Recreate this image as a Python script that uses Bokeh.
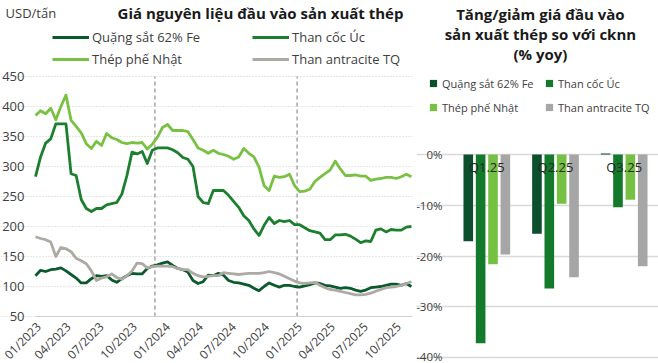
import math
from bokeh.plotting import figure
from bokeh.models import (Range1d, FixedTicker, Label, Legend, LegendItem,
                          ColumnDataSource, PrintfTickFormatter)
from bokeh.layouts import row
from bokeh.transform import dodge
from bokeh.embed import file_html
from bokeh.resources import INLINE
from bokeh.core.properties import value

FONT = "Open Sans"
TXT = "#404040"

# ---------------- data: left chart (weekly prices, USD/tan) ----------------
weeks = list(range(0, 149, 2))
iron = [118, 127, 125, 128, 129, 131, 126, 120, 114, 106,
        106, 113, 118, 117, 118, 111, 107, 113, 118, 122,
        121, 121, 130, 134, 136, 139, 141, 135, 130, 128,
        124, 110, 105, 108, 119, 118, 122, 119, 110, 107,
        106, 104, 102, 97, 93, 100, 106, 102, 99, 102,
        102, 100, 99, 101, 103, 106, 105, 102, 101, 99,
        97, 98, 97, 94, 92, 94, 98, 99, 100, 102,
        104, 104, 102, 105, 100]
coke = [283, 316, 339, 346, 371, 371, 371, 288, 285, 245,
        230, 225, 230, 230, 236, 238, 240, 254, 285, 324,
        321, 325, 305, 327, 331, 331, 331, 328, 323, 315,
        312, 300, 250, 240, 238, 260, 260, 260, 252, 242,
        232, 218, 210, 196, 185, 202, 215, 205, 210, 208,
        210, 203, 203, 198, 193, 191, 189, 178, 178, 186,
        186, 187, 184, 179, 173, 176, 175, 194, 196, 191,
        195, 194, 194, 199, 200]
scrap = [385, 393, 388, 397, 378, 400, 419, 377, 367, 356,
         338, 330, 342, 335, 355, 348, 345, 340, 338, 340,
         339, 340, 329, 337, 349, 365, 370, 360, 360, 360,
         358, 345, 331, 327, 322, 327, 322, 320, 317, 312,
         316, 330, 322, 316, 299, 268, 260, 284, 282, 283,
         287, 268, 258, 259, 262, 275, 282, 288, 294, 309,
         296, 285, 285, 286, 284, 284, 277, 279, 280, 282,
         282, 280, 283, 287, 283]
anth = [183, 180, 178, 174, 150, 165, 163, 158, 147, 143,
        138, 126, 110, 114, 116, 121, 115, 112, 118, 126,
        139, 138, 131, 133, 134, 134, 134, 133, 130, 128,
        128, 122, 118, 116, 117, 118, 118, 123, 122, 121,
        120, 121, 122, 122, 122, 123, 125, 123, 121, 117,
        113, 109, 106, 105, 106, 107, 102, 98, 95, 94,
        92, 90, 88, 86, 86, 87, 89, 92, 95, 98,
        99, 100, 102, 105, 108]
tick_weeks = [0, 13, 26, 39, 52, 65, 78, 91, 104, 117, 130, 143]
tick_labels = ["01/2023", "04/2023", "07/2023", "10/2023", "01/2024", "04/2024",
               "07/2024", "10/2024", "01/2025", "04/2025", "07/2025", "10/2025"]
year_marks = [47, 103]
y_ticks = [50, 100, 150, 200, 250, 300, 350, 400, 450]

# ---------------- data: right chart (% yoy) ----------------
quarters = ["Q1.25", "Q2.25", "Q3.25"]
iron_yoy = [-17.1, -15.6, 0.2]
coke_yoy = [-37.2, -26.4, -10.4]
scrap_yoy = [-21.6, -9.7, -8.9]
anth_yoy = [-19.7, -24.2, -22.0]
pct_ticks = [-40, -30, -20, -10, 0]

names = ["Quặng sắt 62% Fe", "Than cốc Úc", "Thép phế Nhật", "Than antracite TQ"]
line_colors = ["#0B5A2C", "#1B7F2F", "#78C143", "#ADAAA3"]
bar_colors = ["#0B4F2C", "#137A2C", "#76C043", "#A6A6A6"]

# ================= LEFT FIGURE =================
# frame covers the whole figure; axes are pinned inside it with fixed_location
x_end = 148.43
p1 = figure(width=416, height=363, output_backend="svg", toolbar_location=None,
            x_range=Range1d(-13.78, x_end), y_range=Range1d(-28.33, 576.67),
            min_border_left=0, min_border_right=4, min_border_top=0, min_border_bottom=0)
p1.outline_line_color = None

p1.yaxis.fixed_location = 0
p1.yaxis.ticker = FixedTicker(ticks=y_ticks)
p1.yaxis.axis_line_color = None
p1.yaxis.major_tick_line_color = None
p1.yaxis.minor_tick_line_color = None
p1.yaxis.major_label_standoff = 5
p1.yaxis.major_label_text_font = FONT
p1.yaxis.major_label_text_font_size = "13px"
p1.yaxis.major_label_text_color = TXT

p1.xaxis.fixed_location = y_ticks[0]
p1.xaxis.bounds = (0, x_end)
p1.xaxis.ticker = FixedTicker(ticks=tick_weeks)
p1.xaxis.major_label_overrides = dict(zip(tick_weeks, tick_labels))
p1.xaxis.major_label_orientation = math.pi / 4
p1.xaxis.axis_line_color = "#D0D0D0"
p1.xaxis.axis_line_width = 1.2
p1.xaxis.major_tick_line_color = None
p1.xaxis.minor_tick_line_color = None
p1.xaxis.major_label_standoff = 2
p1.xaxis.major_label_text_font = FONT
p1.xaxis.major_label_text_font_size = "12px"
p1.xaxis.major_label_text_color = TXT

p1.xgrid.visible = False
p1.ygrid.bounds = (0, x_end)
p1.ygrid.grid_line_color = "#CFCFCF"
p1.ygrid.grid_line_dash = "1 2"
p1.ygrid.grid_line_width = 1

p1.segment(x0=year_marks, y0=[y_ticks[0]] * len(year_marks), x1=year_marks,
           y1=[y_ticks[-1]] * len(year_marks), line_color="#A6A6A6", line_dash="4 3",
           line_width=1.5)

src1 = ColumnDataSource(dict(w=weeks, iron=iron, coke=coke, scrap=scrap, anth=anth))
rends = []
for col, c in zip(["iron", "coke", "scrap", "anth"], line_colors):
    rends.append(p1.line(x="w", y=col, source=src1, line_color=c, line_width=2.8,
                         line_join="round"))

leg_pos1 = [(52, 317), (252, 317), (52, 295), (252, 295)]
for r, n, (vx, vy) in zip(rends, names, leg_pos1):
    leg = Legend(items=[LegendItem(label=n, renderers=[r])], location=(vx, vy),
                 border_line_color=None, background_fill_alpha=0, padding=0, margin=0,
                 spacing=0, glyph_width=37, glyph_height=18, label_height=18,
                 label_standoff=3, label_text_font=FONT, label_text_font_size="13px",
                 label_text_color=TXT)
    p1.add_layout(leg)

p1.add_layout(Label(x=-11.8, y=555.5, text="USD/tấn", text_font=FONT, text_font_size="13px",
                    text_color=TXT, text_baseline="middle", text_align="left"))
p1.add_layout(Label(x=88.6, y=555.5, text="Giá nguyên liệu đầu vào sản xuất thép",
                    text_font=FONT, text_font_size="15px", text_font_style="bold",
                    text_color="#1A1A1A", text_baseline="middle", text_align="center"))

# ================= RIGHT FIGURE =================
q_pos = [i + 0.5 for i in range(len(quarters))]
p2 = figure(width=242, height=363, output_backend="svg", toolbar_location=None,
            x_range=Range1d(-0.524, 3.0), y_range=Range1d(-41.18, 30.36),
            x_axis_location=None,
            min_border_left=0, min_border_right=0, min_border_top=0, min_border_bottom=0)
p2.outline_line_color = None
p2.yaxis.fixed_location = 0
p2.yaxis.ticker = FixedTicker(ticks=pct_ticks)
p2.yaxis.formatter = PrintfTickFormatter(format="%d%%")
p2.yaxis.axis_line_color = None
p2.yaxis.major_tick_line_color = None
p2.yaxis.minor_tick_line_color = None
p2.yaxis.major_label_standoff = 4
p2.yaxis.major_label_text_font = FONT
p2.yaxis.major_label_text_font_size = "11.5px"
p2.yaxis.major_label_text_color = TXT
p2.xgrid.visible = False
p2.ygrid.ticker = FixedTicker(ticks=pct_ticks)
p2.ygrid.bounds = (0, 3.0)
p2.ygrid.grid_line_color = "#D9D9D9"
p2.ygrid.grid_line_width = 1.5

src2 = ColumnDataSource(dict(q=q_pos, iron=iron_yoy, coke=coke_yoy,
                             scrap=scrap_yoy, anth=anth_yoy))
offsets = [-0.27, -0.09, 0.09, 0.27]
for col, off, c in zip(["iron", "coke", "scrap", "anth"], offsets, bar_colors):
    p2.vbar(x=dodge("q", off), top=col, width=0.14, source=src2,
            fill_color=c, line_color=None)

p2.text(x=q_pos, y=[-2.55] * len(q_pos), text=quarters, text_align="center",
        text_baseline="middle", text_font=value(FONT), text_font_size="13px",
        text_color="#262626")

# legend swatches: zero-size square markers (only their legend glyph is visible)
leg_pos2 = [(8, 271), (124, 271), (8, 247), (124, 247)]
for n, c, (vx, vy) in zip(names, bar_colors, leg_pos2):
    swatch = p2.scatter(x=q_pos[:1], y=pct_ticks[-1:], size=0, marker="square",
                        fill_color=c, line_color=None)
    leg = Legend(items=[LegendItem(label=n, renderers=[swatch])], location=(vx, vy),
                 border_line_color=None, background_fill_alpha=0, padding=0, margin=0,
                 spacing=0, glyph_width=18, glyph_height=18, label_height=18,
                 label_standoff=0, label_text_font=FONT, label_text_font_size="11px",
                 label_text_color=TXT)
    p2.add_layout(leg)

for t, yv in zip(["Tăng/giảm giá đầu vào", "sản xuất thép so với cknn", "(% yoy)"],
                 [27.74, 23.8, 19.85]):
    p2.add_layout(Label(x=1.28, y=yv, text=t, text_font=FONT, text_font_size="15px",
                        text_font_style="bold", text_color="#1A1A1A",
                        text_baseline="middle", text_align="center"))

layout = row(p1, p2)
open("out.html", "w").write(file_html(layout, INLINE))
